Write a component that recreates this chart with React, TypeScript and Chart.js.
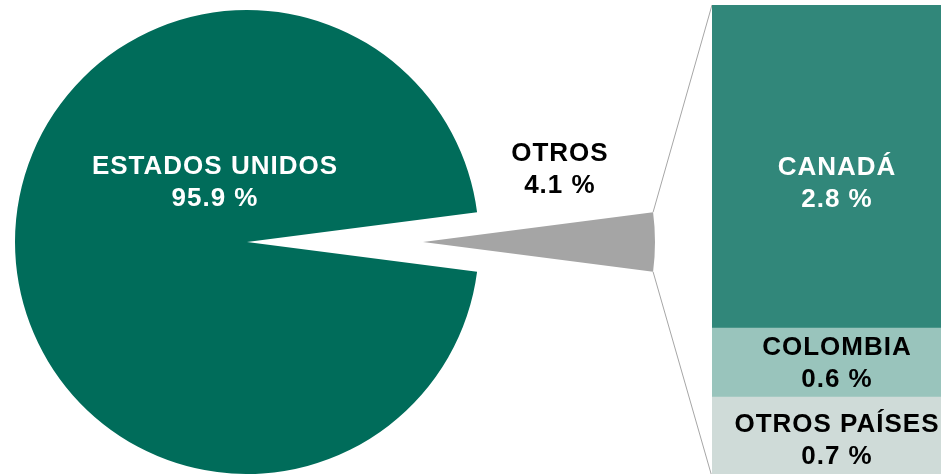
import React, { useEffect, useRef } from 'react';
import { Chart, registerables } from 'chart.js';

Chart.register(...registerables);

// ---- Data ----
const pieLabels = ['ESTADOS UNIDOS', 'OTROS'];
const pieValues = [95.9, 4.1];
const barLabels = ['CANADÁ', 'COLOMBIA', 'OTROS PAÍSES'];
const barValues = [2.8, 0.6, 0.7];

// ---- Styles ----
const PIE_COLORS = ['#006C5A', '#A5A5A5'];
const PIE_TEXT = ['#FFFFFF', '#000000'];
const BAR_COLORS = ['#31877A', '#99C4BC', '#CFDBD8'];
const BAR_TEXT = ['#FFFFFF', '#000000', '#000000'];
const BAR_LABEL_DY = [16, 0, 2];
const LINE_COLOR = '#A6A6A6';
const FONT = 'bold 26px "Liberation Sans", Arial, sans-serif';
const LINE_GAP = 32;
const CAP_HALF = 9.3;

// ---- Layout ----
const W = 941;
const H = 474;
const PIE_SIZE = 464;
const PIE_LEFT = 15;
const PIE_TOP = 10;
const EXPLODE = 176;
const BAR_LEFT = 712;
const BAR_TOP = 5;
const BAR_W = 250;
const BAR_H = 472;
// label positions relative to the pie centre, as fractions of radius
const PIE_LABEL_POS: [number, number][] = [[-0.138, -0.265], [0.59, -0.32]];

const fmt = (v: number) => v.toFixed(1) + ' %';
const pieTotal = pieValues.reduce((a, b) => a + b, 0);
const barTotal = barValues.reduce((a, b) => a + b, 0);
const ROTATION = 90 + (pieValues[1] / pieTotal) * 180;

function drawTwoLines(ctx: CanvasRenderingContext2D, cx: number, cy: number, lines: string[], color: string) {
  ctx.save();
  ctx.font = FONT;
  ctx.fillStyle = color;
  ctx.textAlign = 'center';
  ctx.textBaseline = 'alphabetic';
  (ctx as any).letterSpacing = '1px';
  ctx.fillText(lines[0], cx, cy - LINE_GAP / 2 + CAP_HALF);
  ctx.fillText(lines[1], cx, cy + LINE_GAP / 2 + CAP_HALF);
  ctx.restore();
}

function pieLabelPlugin(index: number) {
  return {
    id: 'pieLabel' + index,
    afterDatasetsDraw(chart: any) {
      const arc = chart.getDatasetMeta(0).data[index] as any;
      const r = arc.outerRadius;
      const [fx, fy] = PIE_LABEL_POS[index];
      drawTwoLines(chart.ctx, arc.x + fx * r, arc.y + fy * r, [pieLabels[index], fmt(pieValues[index])], PIE_TEXT[index]);
    },
  };
}

const barLabelPlugin = {
  id: 'barLabel',
  afterDatasetsDraw(chart: any) {
    barLabels.forEach((label, i) => {
      const el = chart.getDatasetMeta(i).data[0] as any;
      drawTwoLines(chart.ctx, el.x, (el.y + el.base) / 2 + BAR_LABEL_DY[i], [label, fmt(barValues[i])], BAR_TEXT[i]);
    });
  },
};

function pieConfig(visibleIndex: number): any {
  return {
    type: 'pie',
    data: {
      labels: pieLabels,
      datasets: [
        {
          data: pieValues,
          backgroundColor: PIE_COLORS.map((c, i) => (i === visibleIndex ? c : 'rgba(0,0,0,0)')),
          borderWidth: 0,
        },
      ],
    },
    options: {
      responsive: false,
      animation: false,
      events: [],
      rotation: ROTATION,
      layout: { padding: 0 },
      plugins: { legend: { display: false }, tooltip: { enabled: false } },
    },
    plugins: [pieLabelPlugin(visibleIndex)],
  };
}

export default function App() {
  const pieARef = useRef<HTMLCanvasElement>(null);
  const pieBRef = useRef<HTMLCanvasElement>(null);
  const barRef = useRef<HTMLCanvasElement>(null);
  const lineRef = useRef<HTMLCanvasElement>(null);

  useEffect(() => {
    const chartA = new Chart(pieARef.current!, pieConfig(0));
    const chartB = new Chart(pieBRef.current!, pieConfig(1));
    const chartC = new Chart(barRef.current!, {
      type: 'bar',
      data: {
        labels: [''],
        datasets: barLabels.map((l, i) => ({
          label: l,
          data: [barValues[i]],
          backgroundColor: BAR_COLORS[i],
          borderWidth: 0,
          barPercentage: 1,
          categoryPercentage: 1,
        })),
      },
      options: {
        responsive: false,
        animation: false,
        events: [],
        layout: { padding: 0 },
        plugins: { legend: { display: false }, tooltip: { enabled: false } },
        scales: {
          x: { display: false, stacked: true },
          y: { display: false, stacked: true, min: 0, max: barTotal, reverse: true },
        },
      },
      plugins: [barLabelPlugin],
    } as any);

    // connector lines from exploded slice to the bar
    const ctx = lineRef.current!.getContext('2d')!;
    ctx.clearRect(0, 0, W, H);
    const arc = chartB.getDatasetMeta(0).data[1] as any;
    const r = arc.outerRadius;
    const ox = PIE_LEFT + EXPLODE + arc.x;
    const oy = PIE_TOP + arc.y;
    const p1 = [ox + r * Math.cos(arc.startAngle), oy + r * Math.sin(arc.startAngle)];
    const p2 = [ox + r * Math.cos(arc.endAngle), oy + r * Math.sin(arc.endAngle)];
    const first = chartC.getDatasetMeta(0).data[0] as any;
    const last = chartC.getDatasetMeta(barLabels.length - 1).data[0] as any;
    const left = BAR_LEFT + first.x - first.width / 2;
    const top = BAR_TOP + Math.min(first.y, first.base);
    const bottom = BAR_TOP + Math.max(last.y, last.base);
    const upper = p1[1] < p2[1] ? p1 : p2;
    const lower = p1[1] < p2[1] ? p2 : p1;
    ctx.strokeStyle = LINE_COLOR;
    ctx.lineWidth = 1;
    ctx.beginPath();
    ctx.moveTo(upper[0], upper[1]);
    ctx.lineTo(left, top);
    ctx.moveTo(lower[0], lower[1]);
    ctx.lineTo(left, bottom);
    ctx.stroke();

    return () => {
      chartA.destroy();
      chartB.destroy();
      chartC.destroy();
    };
  }, []);

  const abs = (left: number, top: number, w: number, h: number): React.CSSProperties => ({
    position: 'absolute',
    left,
    top,
    width: w,
    height: h,
  });

  return (
    <div style={{ position: 'fixed', left: 0, top: 0, width: W, height: H, overflow: 'hidden', background: '#fff' }}>
      <canvas ref={pieARef} width={PIE_SIZE} height={PIE_SIZE} style={abs(PIE_LEFT, PIE_TOP, PIE_SIZE, PIE_SIZE)} />
      <canvas ref={lineRef} width={W} height={H} style={abs(0, 0, W, H)} />
      <canvas ref={pieBRef} width={PIE_SIZE} height={PIE_SIZE} style={abs(PIE_LEFT + EXPLODE, PIE_TOP, PIE_SIZE, PIE_SIZE)} />
      <canvas ref={barRef} width={BAR_W} height={BAR_H} style={abs(BAR_LEFT, BAR_TOP, BAR_W, BAR_H)} />
    </div>
  );
}
